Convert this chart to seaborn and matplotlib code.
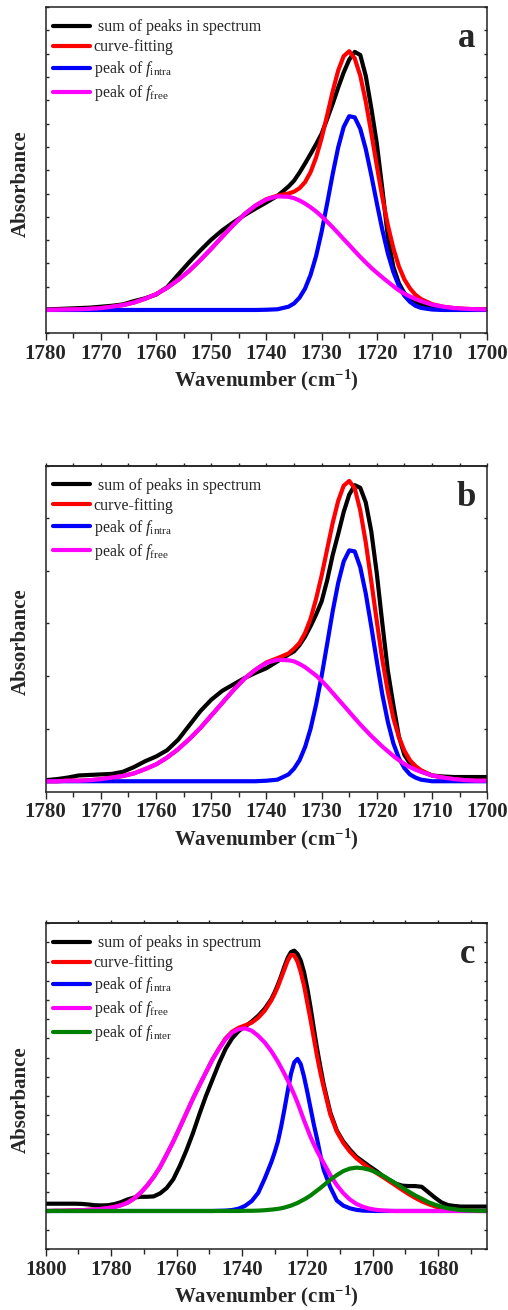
import matplotlib
matplotlib.use("Agg")
import matplotlib.pyplot as plt
from matplotlib.ticker import MultipleLocator
import seaborn as sns

sns.set_style("ticks")
plt.rcParams['font.family'] = ['Liberation Serif', 'DejaVu Serif']
plt.rcParams['mathtext.fontset'] = 'custom'
plt.rcParams['mathtext.rm'] = 'Liberation Serif'
plt.rcParams['mathtext.it'] = 'Liberation Serif:italic'
plt.rcParams['mathtext.bf'] = 'Liberation Serif:bold'

# wavenumber grids (cm-1), finer around the main peak
wn_ab = list(range(1780, 1735, -2)) + list(range(1735, 1712, -1)) + list(range(1712, 1699, -2))
wn_c = list(range(1801, 1731, -2)) + list(range(1731, 1714, -1)) + list(range(1713, 1664, -2))

# panel a
black_a = [0.02, 0.04, 0.06, 0.08, 0.10, 0.14, 0.18, 0.24, 0.38, 0.50,
           0.66, 0.98, 1.52, 2.05, 2.55, 3.02, 3.42, 3.76, 4.07, 4.35,
           4.62, 4.90, 5.30,
           5.55, 5.90, 6.29, 6.70, 7.12, 7.57, 8.20, 8.85, 9.55, 10.20,
           10.75, 11.08, 10.95, 10.05, 8.67, 7.15, 5.20, 3.15, 1.85, 1.15,
           0.72, 0.48, 0.35,
           0.26, 0.14, 0.08, 0.05, 0.03, 0.02, 0.02]
red_a = [0.00, 0.01, 0.02, 0.03, 0.05, 0.08, 0.14, 0.21, 0.32, 0.48,
         0.68, 0.95, 1.29, 1.68, 2.14, 2.63, 3.15, 3.65, 4.11, 4.48,
         4.76, 4.91, 5.00,
         5.08, 5.23, 5.49, 5.92, 6.55, 7.38, 8.36, 9.38, 10.28, 10.90,
         11.11, 10.80, 10.06, 8.95, 7.60, 6.19, 4.84, 3.64, 2.65, 1.87,
         1.31, 0.93, 0.65,
         0.47, 0.25, 0.14, 0.08, 0.05, 0.03, 0.02]
blue_a = [0.00, 0.00, 0.00, 0.00, 0.00, 0.00, 0.00, 0.00, 0.00, 0.00,
          0.00, 0.00, 0.00, 0.00, 0.00, 0.00, 0.00, 0.00, 0.00, 0.00,
          0.01, 0.03, 0.14,
          0.28, 0.53, 0.92, 1.51, 2.32, 3.36, 4.57, 5.83, 6.98, 7.86,
          8.32, 8.27, 7.78, 6.91, 5.79, 4.59, 3.44, 2.43, 1.63, 1.03,
          0.61, 0.35, 0.18,
          0.09, 0.02, 0.00, 0.00, 0.00, 0.00, 0.00]
magenta_a = [0.00, 0.01, 0.02, 0.03, 0.05, 0.08, 0.14, 0.21, 0.32, 0.48,
             0.68, 0.95, 1.29, 1.68, 2.14, 2.63, 3.15, 3.65, 4.11, 4.48,
             4.75, 4.88, 4.86,
             4.80, 4.70, 4.57, 4.41, 4.23, 4.02, 3.79, 3.55, 3.30, 3.04,
             2.79, 2.53, 2.28, 2.04, 1.81, 1.60, 1.40, 1.21, 1.02, 0.84,
             0.70, 0.58, 0.47,
             0.38, 0.23, 0.14, 0.08, 0.05, 0.03, 0.02]

# panel b
black_b = [0.02, 0.04, 0.07, 0.11, 0.12, 0.13, 0.14, 0.18, 0.27, 0.38,
           0.47, 0.59, 0.79, 1.06, 1.33, 1.55, 1.72, 1.84, 1.96, 2.06,
           2.15, 2.28, 2.41,
           2.47, 2.59, 2.75, 2.95, 3.17, 3.42, 3.82, 4.30, 4.70, 5.12,
           5.45, 5.63, 5.58, 5.30, 4.75, 3.95, 3.00, 2.10, 1.45, 0.85,
           0.50, 0.34, 0.24,
           0.19, 0.11, 0.09, 0.08, 0.08, 0.08, 0.08]
red_b = [0.00, 0.00, 0.01, 0.01, 0.02, 0.04, 0.07, 0.10, 0.15, 0.23,
         0.32, 0.45, 0.61, 0.80, 1.01, 1.25, 1.49, 1.73, 1.95, 2.12,
         2.26, 2.34, 2.43,
         2.52, 2.63, 2.82, 3.09, 3.47, 3.91, 4.41, 4.91, 5.33, 5.62,
         5.71, 5.57, 5.15, 4.54, 3.80, 3.04, 2.31, 1.70, 1.20, 0.84,
         0.58, 0.40, 0.29,
         0.21, 0.11, 0.07, 0.04, 0.02, 0.01, 0.01]
blue_b = [0.00, 0.00, 0.00, 0.00, 0.00, 0.00, 0.00, 0.00, 0.00, 0.00,
          0.00, 0.00, 0.00, 0.00, 0.00, 0.00, 0.00, 0.00, 0.00, 0.00,
          0.01, 0.03, 0.13,
          0.24, 0.40, 0.65, 1.00, 1.46, 2.00, 2.61, 3.23, 3.77, 4.18,
          4.39, 4.37, 4.07, 3.57, 2.94, 2.28, 1.65, 1.13, 0.72, 0.44,
          0.25, 0.13, 0.07,
          0.03, 0.00, 0.00, 0.00, 0.00, 0.00, 0.00]
magenta_b = [0.00, 0.00, 0.01, 0.01, 0.02, 0.04, 0.07, 0.10, 0.15, 0.23,
             0.32, 0.45, 0.61, 0.80, 1.01, 1.25, 1.49, 1.73, 1.95, 2.12,
             2.25, 2.31, 2.30,
             2.28, 2.23, 2.17, 2.09, 2.01, 1.91, 1.80, 1.68, 1.56, 1.44,
             1.32, 1.20, 1.08, 0.97, 0.86, 0.76, 0.66, 0.57, 0.48, 0.40,
             0.33, 0.27, 0.22,
             0.18, 0.11, 0.07, 0.04, 0.02, 0.01, 0.01]

# panel c
black_c = [0.38, 0.38, 0.38, 0.38, 0.38, 0.38, 0.37, 0.34, 0.30, 0.29,
           0.30, 0.36, 0.46, 0.60, 0.70, 0.74, 0.74, 0.76, 0.92, 1.20,
           1.65, 2.35, 3.15, 4.05, 5.05, 6.00, 6.85, 7.70, 8.45, 9.00,
           9.38, 9.62, 9.88, 10.18, 10.55,
           11.05, 11.40, 11.80, 12.25, 12.75, 13.20, 13.50, 13.57, 13.40,
           13.05, 12.45, 11.60, 10.60, 9.50, 8.45, 7.50, 6.60,
           5.15, 4.20, 3.62, 3.20, 2.83, 2.58, 2.33, 2.10, 1.84, 1.62,
           1.43, 1.32, 1.30, 1.30, 1.26, 0.98, 0.70, 0.45, 0.31, 0.26,
           0.23, 0.23, 0.23, 0.23, 0.23]
red_c = [0.00, 0.00, 0.01, 0.01, 0.02, 0.03, 0.04, 0.06, 0.08, 0.11,
         0.15, 0.21, 0.30, 0.43, 0.65, 0.95, 1.32, 1.77, 2.30, 2.95,
         3.62, 4.35, 5.10, 5.85, 6.55, 7.23, 7.90, 8.48, 9.00, 9.35,
         9.55, 9.68, 9.82, 10.08, 10.45,
         10.98, 11.32, 11.70, 12.15, 12.60, 13.05, 13.35, 13.32, 13.00,
         12.45, 11.75, 10.85, 9.95, 9.00, 8.05, 7.20, 6.45,
         5.05, 4.15, 3.55, 3.10, 2.75, 2.48, 2.22, 2.00, 1.78, 1.56,
         1.33, 1.10, 0.88, 0.68, 0.50, 0.36, 0.24, 0.16, 0.10, 0.06,
         0.04, 0.02, 0.01, 0.00, 0.00]
blue_c = [0.00, 0.00, 0.00, 0.00, 0.00, 0.00, 0.00, 0.00, 0.00, 0.00,
          0.00, 0.00, 0.00, 0.00, 0.00, 0.00, 0.00, 0.00, 0.00, 0.00,
          0.00, 0.00, 0.00, 0.00, 0.00, 0.00, 0.00, 0.01, 0.02, 0.05,
          0.12, 0.27, 0.52, 0.95, 1.70,
          2.55, 3.05, 3.62, 4.40, 5.30, 6.25, 7.15, 7.75, 7.93,
          7.65, 7.00, 6.20, 5.35, 4.50, 3.74, 2.90, 2.15,
          1.25, 0.55, 0.28, 0.14, 0.06, 0.02, 0.01, 0.00, 0.00, 0.00,
          0.00, 0.00, 0.00, 0.00, 0.00, 0.00, 0.00, 0.00, 0.00, 0.00,
          0.00, 0.00, 0.00, 0.00, 0.00]
magenta_c = [0.00, 0.00, 0.01, 0.01, 0.02, 0.03, 0.04, 0.06, 0.08, 0.11,
             0.15, 0.21, 0.30, 0.43, 0.65, 0.95, 1.32, 1.77, 2.30, 2.95,
             3.62, 4.35, 5.10, 5.85, 6.55, 7.23, 7.90, 8.45, 8.95, 9.30,
             9.48, 9.52, 9.40, 9.13, 8.78,
             8.33, 8.06, 7.78, 7.47, 7.15, 6.81, 6.45, 6.06, 5.65,
             5.19, 4.72, 4.29, 3.85, 3.48, 3.12, 2.80, 2.50,
             1.88, 1.35, 0.93, 0.60, 0.37, 0.22, 0.12, 0.06, 0.03, 0.01,
             0.00, 0.00, 0.00, 0.00, 0.00, 0.00, 0.00, 0.00, 0.00, 0.00,
             0.00, 0.00, 0.00, 0.00, 0.00]
green_c = [0.00, 0.00, 0.00, 0.00, 0.00, 0.00, 0.00, 0.00, 0.00, 0.00,
           0.00, 0.00, 0.00, 0.00, 0.00, 0.00, 0.00, 0.00, 0.00, 0.00,
           0.00, 0.00, 0.00, 0.00, 0.00, 0.00, 0.00, 0.00, 0.00, 0.00,
           0.00, 0.01, 0.01, 0.02, 0.04,
           0.07, 0.09, 0.11, 0.14, 0.18, 0.23, 0.28, 0.35, 0.42,
           0.51, 0.60, 0.70, 0.81, 0.94, 1.07, 1.20, 1.34,
           1.62, 1.87, 2.08, 2.21, 2.26, 2.23, 2.15, 2.02, 1.85, 1.65,
           1.44, 1.22, 1.01, 0.81, 0.64, 0.46, 0.33, 0.22, 0.14, 0.09,
           0.05, 0.03, 0.02, 0.01, 0.01]

labels = [' sum of peaks in spectrum', 'curve-fitting',
          r'peak of $f_{\mathrm{intra}}$', r'peak of $f_{\mathrm{free}}$',
          r'peak of $f_{\mathrm{inter}}$']
colors = ['black', 'red', 'blue', 'magenta', 'green']

panels = [
    ('a', wn_ab, [black_a, red_a, blue_a, magenta_a], (1780, 1700), (-1, 13), 10, 5, 0.7456, False),
    ('b', wn_ab, [black_b, red_b, blue_b, magenta_b], (1780, 1700), (-0.2, 6.0), 10, 5, 0.3956, True),
    ('c', wn_c, [black_c, red_c, blue_c, magenta_c, green_c], (1800, 1665), (-2, 15), 20, 10, 0.0463, True),
]

fig = plt.figure(figsize=(5.08, 13.10), dpi=100)

for letter, wn, series, xlim, ylim, major, minor, bottom, top_ticks in panels:
    ax = fig.add_axes([0.090, bottom, 0.869, 0.2489])
    for y, lab, col in zip(series, labels, colors):
        sns.lineplot(x=wn, y=y, ax=ax, color=col, lw=3.0, label=lab,
                     errorbar=None, solid_capstyle='round', solid_joinstyle='round')
    ax.set_xlim(*xlim)
    ax.set_ylim(*ylim)
    ax.xaxis.set_major_locator(MultipleLocator(major))
    ax.xaxis.set_minor_locator(MultipleLocator(minor))
    ax.yaxis.set_major_locator(MultipleLocator(1))
    ax.tick_params(axis='x', which='major', direction='out', length=5, width=1,
                   pad=2.5, labelsize=15)
    ax.tick_params(axis='x', which='minor', direction='out', length=3.5, width=1)
    ax.tick_params(axis='y', which='both', direction='in', left=True, right=True,
                   labelleft=False, length=2.5, width=1)
    for lab in ax.get_xticklabels():
        lab.set_fontweight('bold')
    for sp in ax.spines.values():
        sp.set_visible(True)
        sp.set_linewidth(1.1)
        sp.set_color('#222222')
    if top_ticks:
        sec = ax.secondary_xaxis('top')
        sec.xaxis.set_major_locator(MultipleLocator(minor))
        sec.tick_params(direction='out', length=2, width=1, labeltop=False)
        sec.spines['top'].set_linewidth(1.1)
        sec.spines['top'].set_color('#222222')

    ax.set_xlabel(r'Wavenumber (cm$^{\mathbf{-1}}$)', fontsize=15,
                  fontweight='bold', labelpad=3)
    ax.set_ylabel('Absorbance', fontsize=15, fontweight='bold')
    ax.yaxis.set_label_coords(-0.033, 0.46)

    ax.legend(loc='upper left', bbox_to_anchor=(0.016, 0.963), frameon=False,
              fontsize=11.5, handlelength=2.35, handletextpad=0.2,
              labelspacing=0.25, borderaxespad=0, borderpad=0)
    ax.text(0.974, 0.877, letter, transform=ax.transAxes, ha='right',
            va='baseline', fontsize=25, fontweight='bold')

fig.savefig('out.png', dpi=100)
